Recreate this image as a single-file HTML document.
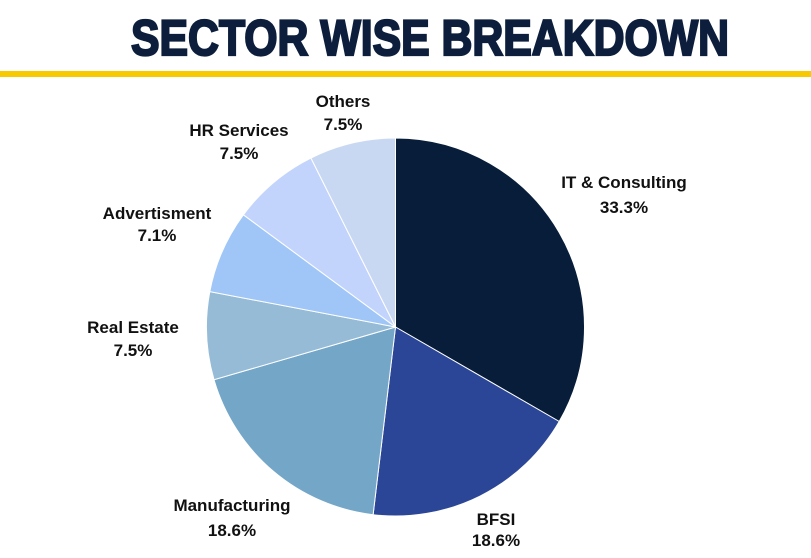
<!DOCTYPE html>
<html><head><meta charset="utf-8"><style>
html,body{margin:0;padding:0;background:#fff;}
svg{display:block;}
text{font-family:"Liberation Sans",sans-serif;font-weight:bold;}
</style></head><body>
<svg width="811" height="558" viewBox="0 0 811 558">
<rect width="811" height="558" fill="#fff"/>
<text x="430" y="55" font-size="50" fill="#0c1e3c" stroke="#0c1e3c" stroke-width="2.2" text-anchor="middle" textLength="598" lengthAdjust="spacingAndGlyphs">SECTOR WISE BREAKDOWN</text>
<rect x="0" y="71" width="811" height="6" fill="#f6c900"/>
<g stroke="#fff" stroke-width="1">
<path d="M395.5,327 L395.5,138 A189,189 0 0 1 559.2,421.5 Z" fill="#071d3a"/>
<path d="M395.5,327 L559.2,421.5 A189,189 0 0 1 373.1,514.7 Z" fill="#2b4696"/>
<path d="M395.5,327 L373.1,514.7 A189,189 0 0 1 214.0,379.7 Z" fill="#74a6c8"/>
<path d="M395.5,327 L214.0,379.7 A189,189 0 0 1 209.8,291.6 Z" fill="#95bbd7"/>
<path d="M395.5,327 L209.8,291.6 A189,189 0 0 1 243.4,214.8 Z" fill="#9fc6f7"/>
<path d="M395.5,327 L243.4,214.8 A189,189 0 0 1 310.9,158.0 Z" fill="#c3d4fc"/>
<path d="M395.5,327 L310.9,158.0 A189,189 0 0 1 395.5,138 Z" fill="#c9d8f2"/>
</g>
<g font-size="17" fill="#111" text-anchor="middle">
<text x="624" y="188">IT &amp; Consulting</text><text x="624" y="213">33.3%</text>
<text x="496" y="525">BFSI</text><text x="496" y="546">18.6%</text>
<text x="232" y="511">Manufacturing</text><text x="232" y="536">18.6%</text>
<text x="133" y="333">Real Estate</text><text x="133" y="356">7.5%</text>
<text x="157" y="219">Advertisment</text><text x="157" y="241">7.1%</text>
<text x="239" y="136">HR Services</text><text x="239" y="159">7.5%</text>
<text x="343" y="107">Others</text><text x="343" y="130">7.5%</text>
</g>
</svg>
</body></html>
